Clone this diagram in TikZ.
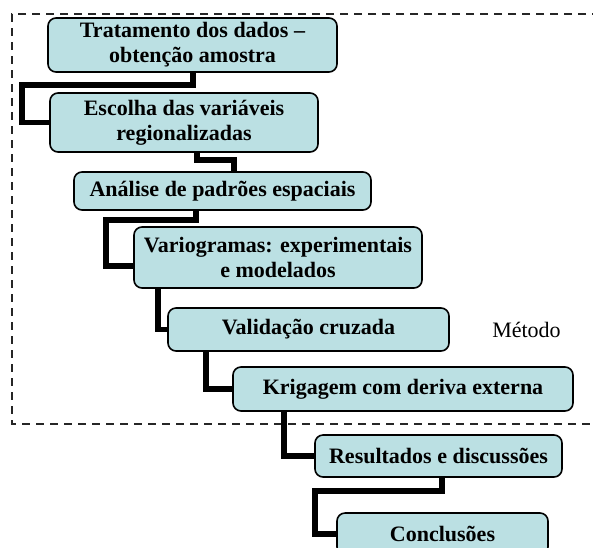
\documentclass[tikz,border=0pt]{standalone}
\usepackage{fontspec}
\setmainfont{Liberation Serif}
\definecolor{boxfill}{RGB}{187,224,227}
\begin{document}
\begin{tikzpicture}[x=1pt,y=-1pt,
  stage/.style={draw=black,line width=1.6pt,fill=boxfill,rounded corners=8pt,
    align=center,inner sep=0pt,font=\bfseries\fontsize{22}{25}\selectfont},
  link/.style={line width=5.5pt},
  frame/.style={line width=1.8pt,dash pattern=on 8pt off 6pt,color=black!85}]
\useasboundingbox (0,0) rectangle (593,547);
\draw[frame] (600,14) -- (12,14) -- (12,424) -- (600,424);
\node[stage,minimum width=289pt,minimum height=54pt] (trat) at (192.5,45)
  {Tratamento dos dados --\\obtenção amostra};
\node[stage,minimum width=268pt,minimum height=59pt] (escolha) at (184,122.5)
  {Escolha das variáveis\\regionalizadas};
\node[stage,minimum width=297pt,minimum height=38pt] (analise) at (222.5,191)
  {Análise de padrões espaciais};
\node[stage,minimum width=288pt,minimum height=61pt] (vario) at (278,257.5)
  {Variogramas: experimentais\\e modelados};
\node[stage,minimum width=281pt,minimum height=43pt] (valid) at (308.5,329.5)
  {Validação cruzada};
\node[stage,minimum width=340pt,minimum height=44pt] (krig) at (403,389)
  {Krigagem com deriva externa};
\node[stage,minimum width=247pt,minimum height=42pt] (result) at (438.5,456)
  {Resultados e discussões};
\node[stage,minimum width=211pt,minimum height=42pt] (concl) at (442.5,534)
  {Conclusões};
\node[font=\fontsize{22}{25}\selectfont] (metodo) at (526.5,330) {Método};
\draw[link] (trat.south -| 193,0) |- (22,85) |- (escolha.west);
\draw[link] (escolha.south -| 197,0) |- (234,160) -- (analise.north -| 234,0);
\draw[link] (analise.south -| 196,0) |- (106,220) |- (vario.west |- 0,266);
\draw[link] (vario.south -| 158,0) |- (valid.west);
\draw[link] (valid.south -| 206,0) |- (krig.west);
\draw[link] (krig.south -| 284,0) |- (result.west);
\draw[link] (result.south -| 442,0) |- (315,491) |- (concl.west);
\end{tikzpicture}
\end{document}
